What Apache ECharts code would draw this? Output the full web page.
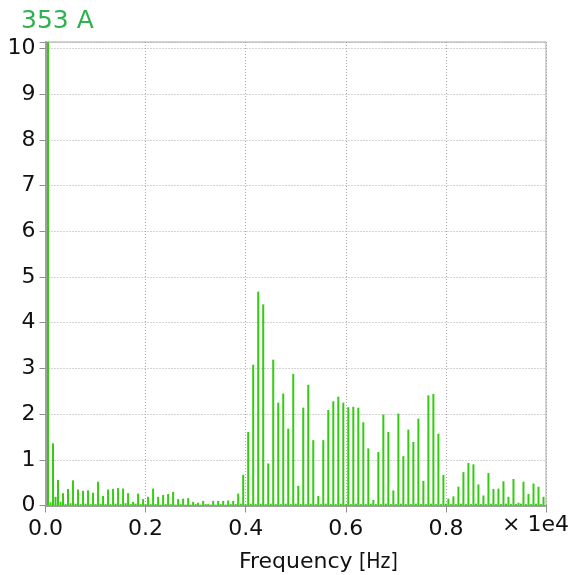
<!DOCTYPE html>
<html>
<head>
<meta charset="utf-8">
<script src="https://cdn.jsdelivr.net/npm/echarts@6/dist/echarts.min.js"></script>
<style>
  html, body { margin: 0; padding: 0; background: #fff; }
  #chart { width: 571px; height: 575px; }
</style>
</head>
<body>
<div id="chart"></div>
<script>
// 基波 50 Hz，奇次谐波 50,150,...,9950 Hz 的幅值
const fundamental = 50;
const oddAmps = [
  10.14, 1.36, 0.56, 0.27, 0.36, 0.55, 0.35, 0.32, 0.33, 0.28,
  0.52, 0.21, 0.35, 0.36, 0.38, 0.37, 0.27, 0.08, 0.26, 0.14,
  0.19, 0.37, 0.19, 0.23, 0.25, 0.30, 0.14, 0.15, 0.16, 0.08,
  0.06, 0.10, 0.03, 0.10, 0.10, 0.10, 0.11, 0.10, 0.26, 0.67,
  1.61, 3.08, 4.68, 4.40, 0.92, 3.19, 2.25, 2.45, 1.68, 2.88,
  0.43, 2.14, 2.64, 1.43, 0.21, 1.43, 2.09, 2.28, 2.38, 2.25,
  2.15, 2.16, 2.14, 1.82, 1.25, 0.12, 1.17, 1.99, 1.61, 0.33,
  2.01, 1.08, 1.66, 1.39, 1.90, 0.54, 2.41, 2.44, 1.57, 0.67,
  0.15, 0.20, 0.41, 0.73, 0.93, 0.90, 0.46, 0.22, 0.71, 0.36,
  0.37, 0.53, 0.19, 0.58, 0.06, 0.52, 0.25, 0.48, 0.41, 0.19
];
// 偶次谐波 100,200,...,9900 Hz（很小）
const evenAmps = [
  0.07, 0.19, 0.08, 0.03, 0.05, 0.04, 0.03, 0.04, 0.03, 0.03,
  0.04, 0.03, 0.03, 0.04, 0.03, 0.05, 0.03, 0.04, 0.03, 0.03,
  0.03, 0.03, 0.02, 0.03, 0.03, 0.02, 0.03, 0.02, 0.02, 0.03,
  0.02, 0.03, 0.02, 0.02, 0.03, 0.02, 0.03, 0.03, 0.04, 0.03,
  0.04, 0.03, 0.04, 0.03, 0.04, 0.03, 0.03, 0.04, 0.03, 0.04,
  0.03, 0.03, 0.04, 0.03, 0.03, 0.04, 0.03, 0.03, 0.04, 0.03,
  0.03, 0.04, 0.03, 0.03, 0.04, 0.03, 0.03, 0.04, 0.03, 0.03,
  0.04, 0.03, 0.03, 0.04, 0.03, 0.03, 0.04, 0.03, 0.03, 0.04,
  0.03, 0.03, 0.04, 0.03, 0.03, 0.04, 0.03, 0.03, 0.04, 0.03,
  0.03, 0.04, 0.03, 0.03, 0.04, 0.03, 0.03, 0.04, 0.03
];
const xTicks = ['0.0', '0.2', '0.4', '0.6', '0.8'];
const titleText = '353 A';

const fontFamily = 'DejaVu Sans';
const green = '#33cc11';

let chart = echarts.init(document.getElementById('chart'));

// 频率位置由谐波次数得到
const barData = [];
oddAmps.forEach((v, i) => {
  barData.push([fundamental * (2 * i + 1), v]);
});
evenAmps.forEach((v, i) => {
  barData.push([fundamental * (2 * i + 2), v]);
});

let option = {
  animation: false,
  grid: {
    left: 45.5,
    right: 25,
    top: 42,
    bottom: 69.5,
    outerBoundsMode: 'none',
    show: true,
    borderColor: '#a8a8a8',
    borderWidth: 1
  },
  title: {
    text: titleText,
    left: 16,
    top: 4,
    textStyle: {
      color: '#2db24f',
      fontFamily: fontFamily,
      fontSize: 25,
      fontWeight: 'normal'
    }
  },
  xAxis: {
    type: 'value',
    min: 0,
    max: 10000,
    interval: 2000,
    name: 'Frequency',
    nameLocation: 'middle',
    nameGap: 46,
    nameTextStyle: {
      color: '#111',
      fontFamily: fontFamily,
      fontSize: 22
    },
    axisLine: {
      show: true,
      lineStyle: { color: '#a0a0a0', width: 2 }
    },
    axisTick: {
      show: true,
      length: 7,
      lineStyle: { color: '#909090', width: 1 }
    },
    axisLabel: {
      margin: 13,
      color: '#111',
      fontFamily: fontFamily,
      fontSize: 22,
      formatter: function (v) {
        let idx = Math.round(v / 2000);
        return v < 10000 ? xTicks[idx] : '';
      }
    },
    splitLine: {
      show: true,
      lineStyle: { color: '#a8a8a8', width: 1, type: [1, 2] }
    }
  },
  yAxis: {
    type: 'value',
    min: 0,
    max: 10.14,
    interval: 1,
    axisLine: {
      show: true,
      lineStyle: { color: '#a0a0a0', width: 2 }
    },
    axisTick: {
      show: true,
      length: 6,
      lineStyle: { color: '#909090', width: 1 }
    },
    axisLabel: {
      margin: 10,
      color: '#111',
      fontFamily: fontFamily,
      fontSize: 22,
      formatter: function (v) {
        return Number.isInteger(v) ? String(v) : '';
      }
    },
    splitLine: {
      show: true,
      lineStyle: { color: '#a8a8a8', width: 1, type: [1, 2] }
    }
  },
  graphic: [
    {
      type: 'text',
      left: 359,
      top: 552,
      style: {
        text: '[Hz]',
        fill: '#111',
        font: '21px "DejaVu Sans Condensed", "DejaVu Sans"'
      }
    },
    {
      type: 'text',
      right: 2,
      top: 514,
      style: {
        text: '× 1e4',
        fill: '#111',
        font: '22px "DejaVu Sans"'
      }
    }
  ],
  series: [
    {
      type: 'bar',
      data: barData,
      barWidth: 2,
      itemStyle: { color: green },
      emphasis: { disabled: true }
    }
  ]
};

chart.setOption(option, true);
</script>
</body>
</html>
